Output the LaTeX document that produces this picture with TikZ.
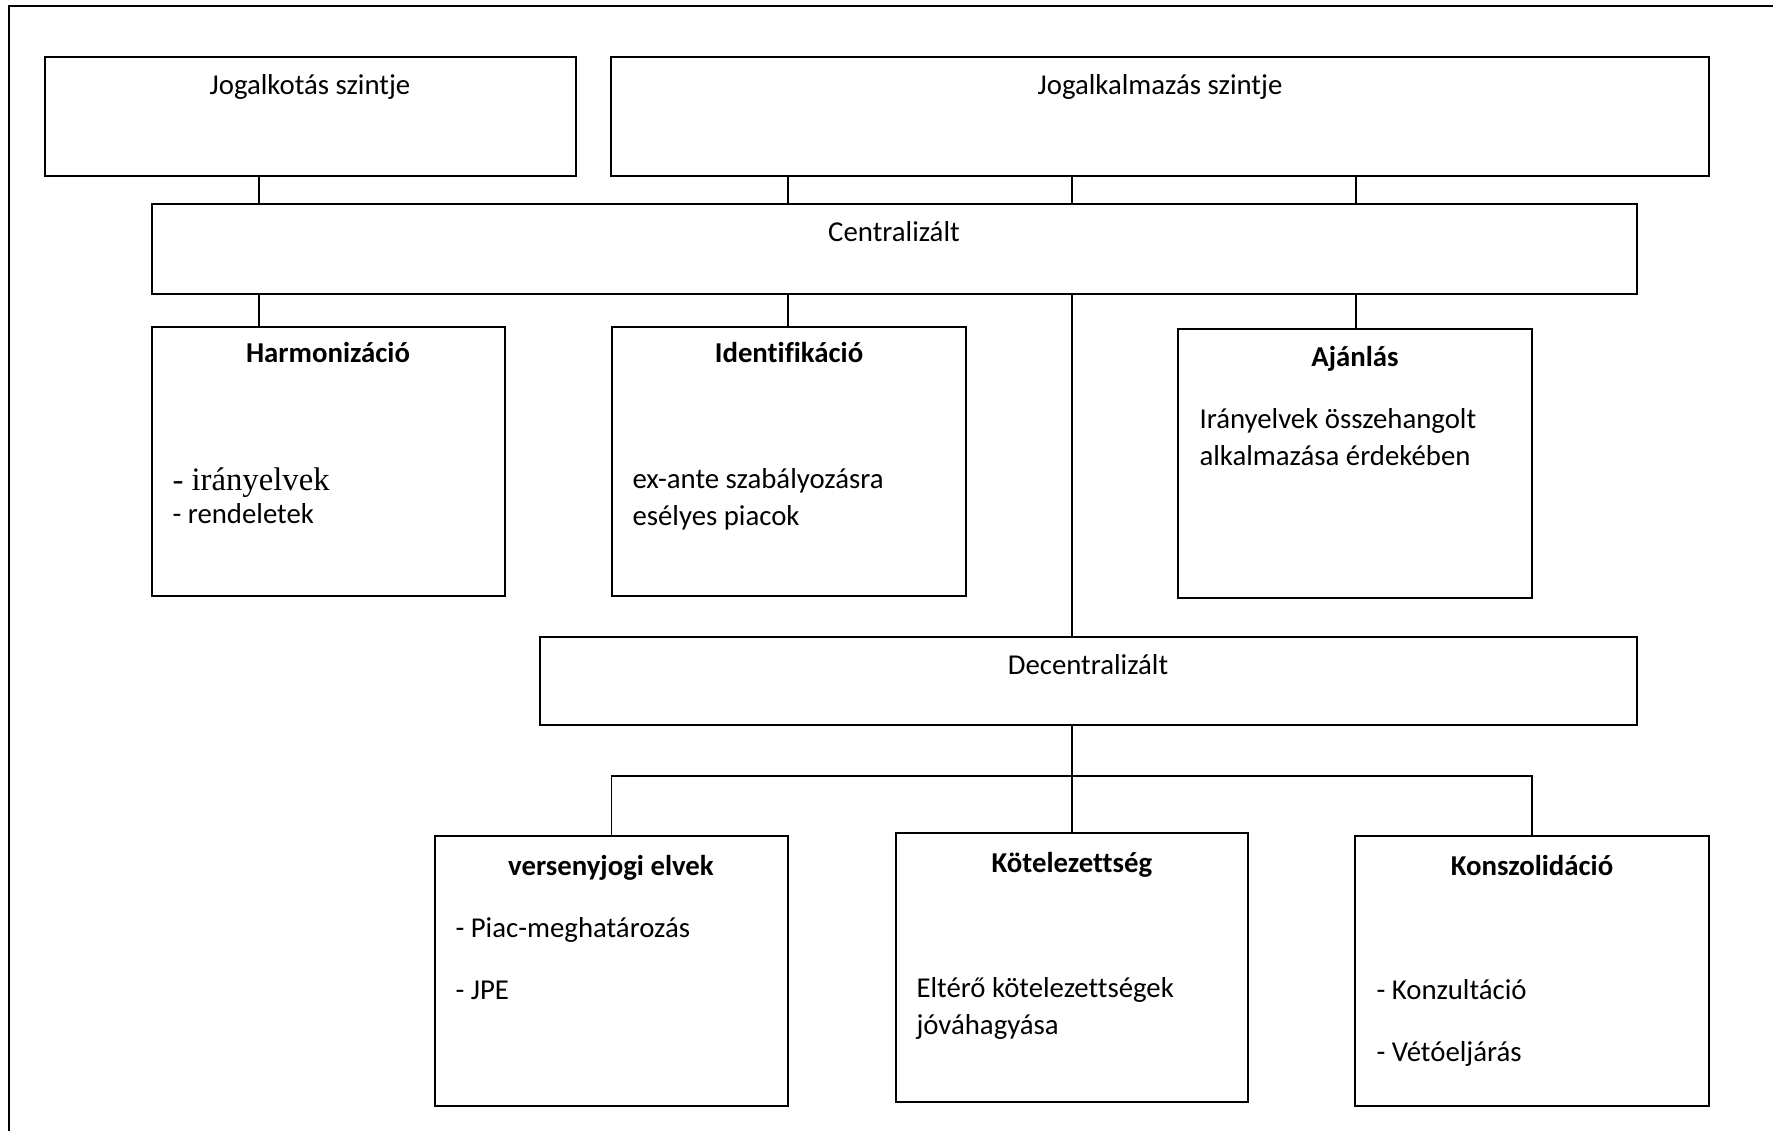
\documentclass[tikz,border=0pt]{standalone}
\usepackage{fontspec}
\setmainfont{Carlito}[Ligatures=CommonOff]
\newfontfamily\serifitem{Liberation Serif}
\usetikzlibrary{fit,calc}

\tikzset{
  box/.style={draw, line width=0.7pt, rectangle, inner sep=0pt, outer sep=0pt},
  conn/.style={line width=0.5pt},
  lbl/.style={anchor=base, inner sep=0pt, font=\fontsize{11}{13}\selectfont},
  headb/.style={lbl, font=\fontsize{11}{13}\selectfont\bfseries},
  item/.style={anchor=base west, inner sep=0pt, font=\fontsize{11}{13}\selectfont},
}

\begin{document}
\begin{tikzpicture}[x=0.01343cm, y=-0.01343cm]
  \clip (0,0) rectangle (1773,1131);
  % outer frame, right and bottom edge are cut off
  \draw[line width=1pt] (9,1200) -- (9,6) -- (1800,6);

  % level boxes
  \node[box, fit={(45,57) (576,176)}] (jogalkotas) {};
  \node[box, fit={(611,57) (1709,176)}] (jogalkalm) {};
  \node[box, fit={(152,204) (1637,294)}] (central) {};
  \node[box, fit={(540,637) (1637,725)}] (decentral) {};

  % centralised boxes
  \node[box, fit={(152,327) (505,596)}] (harm) {};
  \node[box, fit={(612,327) (966,596)}] (ident) {};
  \node[box, fit={(1178,329) (1532,598)}] (ajanl) {};

  % decentralised boxes
  \node[box, fit={(435,836) (788,1106)}] (verseny) {};
  \node[box, fit={(896,833) (1248,1102)}] (kotel) {};
  \node[box, fit={(1355,836) (1709,1106)}] (konsz) {};

  % columns of the connectors
  \coordinate (colA) at (259,0);
  \coordinate (colB) at (788,0);
  \coordinate (colC) at (1072,0);
  \coordinate (colD) at (1356,0);
  \coordinate (bar) at (0,776);

  % connectors
  \draw[conn] (jogalkotas.south -| colA) -- (central.north -| colA);
  \draw[conn] (jogalkalm.south -| colB) -- (central.north -| colB);
  \draw[conn] (jogalkalm.south -| colC) -- (central.north -| colC);
  \draw[conn] (jogalkalm.south -| colD) -- (central.north -| colD);
  \draw[conn] (central.south -| colA) -- (harm.north -| colA);
  \draw[conn] (central.south -| colB) -- (ident.north -| colB);
  \draw[conn] (central.south -| colD) -- (ajanl.north -| colD);
  \draw[conn] (central.south -| colC) -- (decentral.north -| colC);
  \draw[conn] (decentral.south -| colC) -- (kotel.north -| colC);
  \draw[conn] (verseny.north) -- (verseny.north |- bar) -- (konsz.north |- bar) -- (konsz.north);

  % labels
  \node[lbl] (lJogalkotas) at (310,95) {Jogalkotás szintje};
  \node[lbl] (lJogalkalm) at (1160,95) {Jogalkalmazás szintje};
  \node[lbl] (lCentral) at (894,242) {Centralizált};
  \node[lbl] (lDecentral) at (1088,674) {Decentralizált};

  \node[headb] (tHarm) at (328,363) {Harmonizáció};
  \node[item, font=\fontsize{12.5}{14}\serifitem] (hHarm1) at (172,491) {- irányelvek};
  \node[item] (hHarm2) at (172,524) {- rendeletek};

  \node[headb] (tIdent) at (789,363) {Identifikáció};
  \node[item] (hIdent1) at (632,489) {ex-ante szabályozásra};
  \node[item] (hIdent2) at (632,526) {esélyes piacok};

  \node[headb] (tAjanl) at (1355,367) {Ajánlás};
  \node[item] (hAjanl1) at (1199,429) {Irányelvek összehangolt};
  \node[item] (hAjanl2) at (1199,466) {alkalmazása érdekében};

  \node[headb] (tVerseny) at (611,875) {versenyjogi elvek};
  \node[item] (hVerseny1) at (455,937) {- Piac-meghatározás};
  \node[item] (hVerseny2) at (455,999) {- JPE};

  \node[headb] (tKotel) at (1072,872) {Kötelezettség};
  \node[item] (hKotel1) at (916,997) {Eltérő kötelezettségek};
  \node[item] (hKotel2) at (916,1034) {jóváhagyása};

  \node[headb] (tKonsz) at (1532,875) {Konszolidáció};
  \node[item] (hKonsz1) at (1376,999) {- Konzultáció};
  \node[item] (hKonsz2) at (1376,1061) {- Vétóeljárás};
\end{tikzpicture}
\end{document}
